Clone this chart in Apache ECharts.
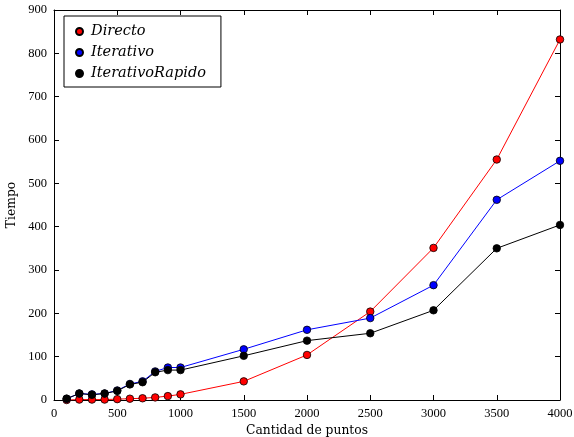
<!DOCTYPE html>
<html>
<head>
<meta charset="utf-8">
<script src="https://cdn.jsdelivr.net/npm/echarts@6/dist/echarts.min.js"></script>
<style>html,body{margin:0;padding:0;background:#fff}#c{width:574px;height:437px}</style>
</head>
<body>
<div id="c"></div>
<script>
const puntos = [100,200,300,400,500,600,700,800,900,1000,1500,2000,2500,3000,3500,4000];
const directo = [0,1,1,1,2,3,4,6,9,13,43,104,204,351,555,832];
const iterativo = [3,15,13,15,22,37,43,66,75,75,117,162,189,265,462,552];
const iterativoRapido = [3,15,12,15,21,36,41,64,69,69,102,137,154,207,350,404];
const seriesNames = ['Directo','Iterativo','IterativoRapido'];
const seriesColors = ['#ff0000','#0000ff','#000000'];
const xTicks = [0,500,1000,1500,2000,2500,3000,3500,4000];
const yTicks = [0,100,200,300,400,500,600,700,800,900];

const NUMFONT = 'Liberation Serif';
const TXTFONT = 'DejaVu Serif';
const chart = echarts.init(document.getElementById('c'), null, {renderer:'canvas'});
const pairs = arr => puntos.map((x,i)=>[x,arr[i]]);
const allData = [directo, iterativo, iterativoRapido];

const axisCommon = {
  axisLine:{show:true, onZero:false, lineStyle:{color:'#000', width:1}},
  axisTick:{show:true, inside:true, length:5, lineStyle:{color:'#000', width:1}},
  splitLine:{show:false}
};
chart.setOption({
  animation:false,
  backgroundColor:'#fff',
  grid:{left:54, right:14, top:10, bottom:37, containLabel:false, outerBoundsMode:'none'},
  legend:{
    orient:'vertical', left:64, top:16,
    data:seriesNames,
    icon:'circle', itemWidth:13, itemHeight:7, itemGap:6,
    padding:[8,15,6,11],
    borderColor:'#000', borderWidth:1, backgroundColor:'#fff', borderRadius:0,
    textStyle:{fontFamily:TXTFONT, fontStyle:'italic', fontSize:14.5, lineHeight:14, color:'#000'}
  },
  xAxis:[
    Object.assign({type:'value', min:0, max:4000, interval:500, position:'bottom',
      name:'Cantidad de puntos', nameLocation:'middle', nameGap:25,
      nameTextStyle:{fontFamily:TXTFONT, fontSize:12.3, color:'#000'},
      axisLabel:{fontFamily:NUMFONT, fontSize:12.5, color:'#000', margin:7,
        formatter:v=>xTicks.includes(v)?String(v):''}}, axisCommon),
    Object.assign({type:'value', min:0, max:4000, interval:500, position:'top',
      axisLabel:{show:false}}, axisCommon)
  ],
  yAxis:[
    Object.assign({type:'value', min:0, max:900, interval:100, position:'left',
      name:'Tiempo', nameLocation:'middle', nameGap:21, nameRotate:90,
      nameTextStyle:{fontFamily:TXTFONT, fontSize:12.3, color:'#000'},
      axisLabel:{fontFamily:NUMFONT, fontSize:12.5, color:'#000', margin:7,
        formatter:v=>yTicks.includes(v)?String(v):''}}, axisCommon),
    Object.assign({type:'value', min:0, max:900, interval:100, position:'right',
      axisLabel:{show:false}}, axisCommon)
  ],
  series: seriesNames.map((n,i)=>({
    name:n, type:'line', data:pairs(allData[i]),
    symbol:'circle', symbolSize:7.5, showSymbol:true,
    lineStyle:{color:seriesColors[i], width:1},
    itemStyle:{color:seriesColors[i], borderColor:'#000', borderWidth:0.8},
    emphasis:{disabled:true}
  }))
});
</script>
</body>
</html>
